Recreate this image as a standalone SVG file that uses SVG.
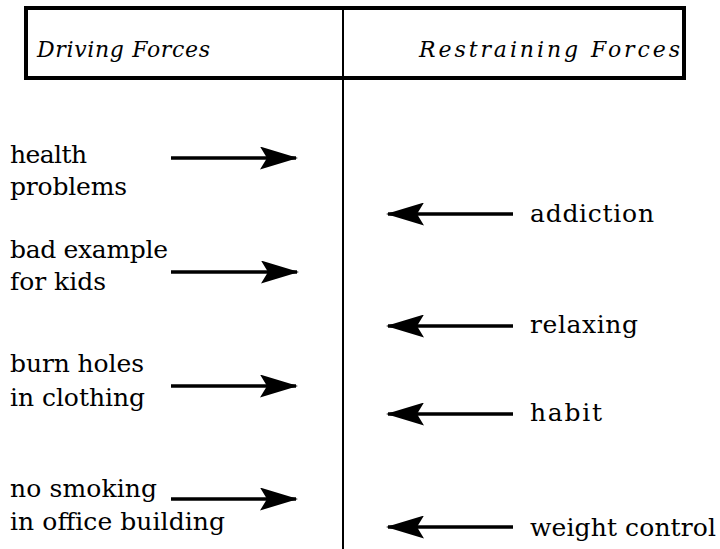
<svg xmlns="http://www.w3.org/2000/svg" width="720" height="549" viewBox="0 0 720 549">
<style>
.arr{stroke:#000;stroke-width:3.5;fill:none;}
.lbl{font-family:"DejaVu Serif",serif;font-size:25px;fill:#000;}
.hdr{font-family:"DejaVu Serif",serif;font-style:italic;font-size:22px;fill:#000;}
</style>
<defs>
<marker id="ah" viewBox="0 0 38 23" refX="36" refY="11.5" markerWidth="38" markerHeight="23" orient="auto" markerUnits="userSpaceOnUse">
<path d="M0,0 L38,11.5 L0,23 L7,11.5 Z" fill="#000"/>
</marker>
</defs>
<rect width="720" height="549" fill="#fff"/>
<g id="header">
<rect x="26" y="8" width="658" height="70" fill="none" stroke="#000" stroke-width="4"/>
<line x1="343" y1="8" x2="343" y2="549" stroke="#000" stroke-width="2"/>
<text class="hdr" x="37" y="57" textLength="173" lengthAdjust="spacing">Driving Forces</text>
<text class="hdr" x="419" y="57" textLength="261" lengthAdjust="spacing">Restraining Forces</text>
</g>
<g id="connectors">
<line class="arr" x1="171" y1="158" x2="296" y2="158" marker-end="url(#ah)"/>
<line class="arr" x1="171" y1="272" x2="297" y2="272" marker-end="url(#ah)"/>
<line class="arr" x1="171" y1="386" x2="296" y2="386" marker-end="url(#ah)"/>
<line class="arr" x1="171" y1="499" x2="296" y2="499" marker-end="url(#ah)"/>
<line class="arr" x1="513" y1="214" x2="388" y2="214" marker-end="url(#ah)"/>
<line class="arr" x1="513" y1="326" x2="388" y2="326" marker-end="url(#ah)"/>
<line class="arr" x1="513" y1="414" x2="388" y2="414" marker-end="url(#ah)"/>
<line class="arr" x1="513" y1="527" x2="388" y2="527" marker-end="url(#ah)"/>
</g>
<g id="health-problems">
<text class="lbl" x="10" y="163" textLength="77" lengthAdjust="spacing">health</text>
<text class="lbl" x="10" y="195" textLength="117" lengthAdjust="spacing">problems</text>
</g>
<g id="bad-example">
<text class="lbl" x="10" y="258" textLength="158" lengthAdjust="spacing">bad example</text>
<text class="lbl" x="10" y="290" textLength="96" lengthAdjust="spacing">for kids</text>
</g>
<g id="burn-holes">
<text class="lbl" x="10" y="372" textLength="134" lengthAdjust="spacing">burn holes</text>
<text class="lbl" x="10" y="406" textLength="135" lengthAdjust="spacing">in clothing</text>
</g>
<g id="no-smoking">
<text class="lbl" x="10" y="497" textLength="147" lengthAdjust="spacing">no smoking</text>
<text class="lbl" x="10" y="530" textLength="215" lengthAdjust="spacing">in office building</text>
</g>
<g id="addiction">
<text class="lbl" x="530" y="222" textLength="124" lengthAdjust="spacing">addiction</text>
</g>
<g id="relaxing">
<text class="lbl" x="530" y="333" textLength="108" lengthAdjust="spacing">relaxing</text>
</g>
<g id="habit">
<text class="lbl" x="530" y="421" textLength="72" lengthAdjust="spacing">habit</text>
</g>
<g id="weight-control">
<text class="lbl" x="530" y="536" textLength="186" lengthAdjust="spacing">weight control</text>
</g>
</svg>
